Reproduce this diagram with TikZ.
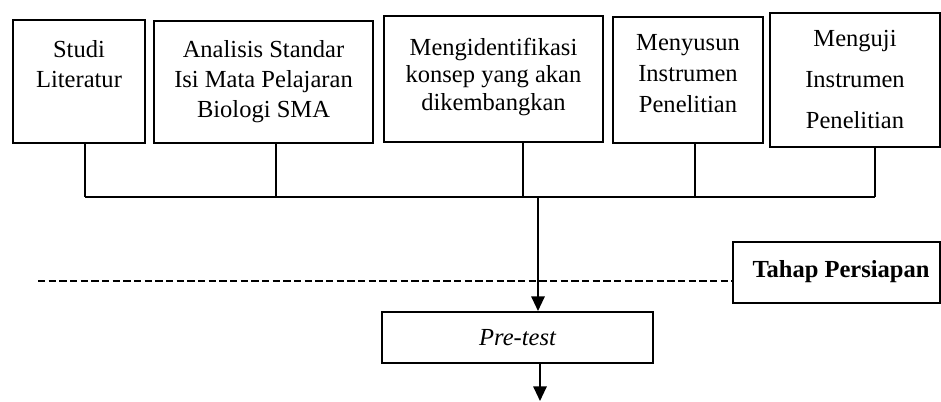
\documentclass[tikz,border=0pt]{standalone}
\usepackage{fontspec}
\setmainfont{Liberation Serif}
\usetikzlibrary{fit,arrows.meta}
\tikzset{
  box/.style={draw, line width=1.5pt, inner sep=0pt},
  txt/.style={align=center, inner sep=0pt, anchor=base, font=\fontsize{18.4}{22.5}\selectfont},
  conn/.style={line width=1.3pt},
  arr/.style={line width=1.5pt, -{Triangle[length=11pt,width=10pt]}},
  dline/.style={line width=1.3pt, dash pattern=on 5.4pt off 2.6pt}
}
\begin{document}
\begin{tikzpicture}[x=0.75pt,y=-0.75pt]
\useasboundingbox (0,0) rectangle (941,401);
% top boxes
\node[box, fit={(13,20)(145,143)}] (b1) {};
\node[box, fit={(154,21)(373,143)}] (b2) {};
\node[box, fit={(384,16)(603,142)}] (b3) {};
\node[box, fit={(613,17)(763,143)}] (b4) {};
\node[box, fit={(770,13)(940,147)}] (b5) {};
% text nodes: anchor=base is the baseline of the last line
\node[txt] (t1) at (79,87) {Studi\\Literatur};
\node[txt] (t2) at (263.5,117) {Analisis Standar\\Isi Mata Pelajaran\\Biologi SMA};
\node[txt, font=\fontsize{18.4}{20.6}\selectfont] (t3) at (493.5,110) {Mengidentifikasi\\konsep yang akan\\dikembangkan};
\node[txt, font=\fontsize{18.4}{23.2}\selectfont] (t4) at (688,112) {Menyusun\\Instrumen\\Penelitian};
\node[txt, font=\fontsize{18.4}{30.4}\selectfont] (t5) at (855,128) {Menguji\\Instrumen\\Penelitian};
% bus
\coordinate (j1) at (85,197);
\coordinate (j2) at (276,197);
\coordinate (j3) at (523,197);
\coordinate (j4) at (695,197);
\coordinate (j5) at (875,197);
\coordinate (m) at (538,197);
\draw[conn] (j1 |- b1.south) -- (j1);
\draw[conn] (j2 |- b2.south) -- (j2);
\draw[conn] (j3 |- b3.south) -- (j3);
\draw[conn] (j4 |- b4.south) -- (j4);
\draw[conn] (j5 |- b5.south) -- (j5);
\draw[conn] (j1) -- (j5);
% stage box and dashed line
\node[box, fit={(733,242)(940,303)}] (tahap) {};
\node[txt, font=\fontsize{18.4}{22.5}\selectfont\bfseries] (tt) at (841,277) {Tahap Persiapan};
\coordinate (d0) at (38,281);
\draw[dline] (d0) -- (d0 -| tahap.west);
% pre-test
\node[box, fit={(382,312)(653,363)}] (pre) {};
\node[txt, font=\fontsize{18.4}{22.5}\selectfont\itshape] (pt) at (517.5,345) {Pre-test};
\draw[arr] (m) -- (m |- pre.north);
\coordinate (e) at (540,401);
\draw[arr] (e |- pre.south) -- (e);
\end{tikzpicture}
\end{document}
